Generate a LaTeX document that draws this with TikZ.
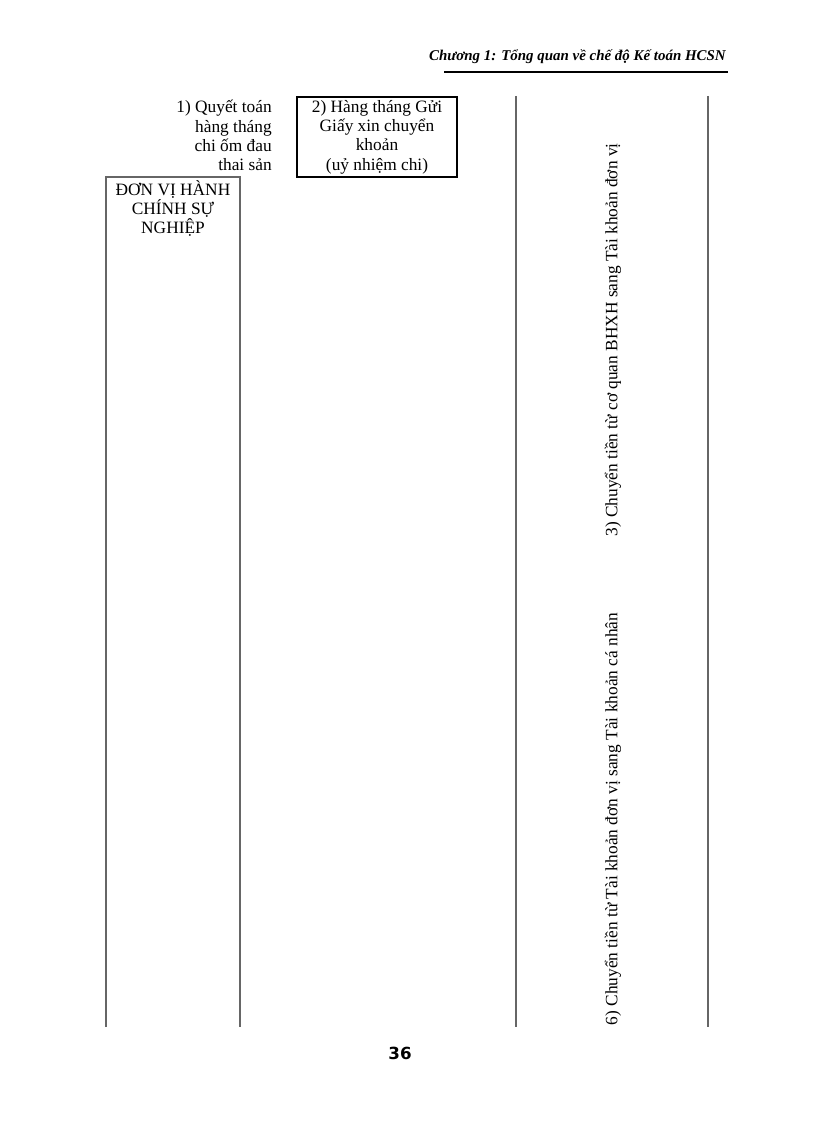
\documentclass[tikz,border=0pt]{standalone}
\usepackage{fontspec}
\setmainfont{Liberation Serif}
\newfontfamily\numfont{DejaVu Sans}
\usepackage{tikz}
\usetikzlibrary{positioning}

\begin{document}
\begin{tikzpicture}[x={(0.75pt,0)},y={(0,-0.75pt)},
	every node/.style={inner sep=0pt,font=\fontsize{13}{14.5}\selectfont},
	band/.style={draw=black!60,line width=1.6pt},
	boxnode/.style={draw=black,line width=0.8pt,minimum width=120pt,minimum height=60pt,align=center}]
	\useasboundingbox (0,0) rectangle (816,1123);

	%header
	\node[anchor=east,font=\fontsize{11.2}{13}\selectfont\bfseries\itshape] (hdr) at (726,57) {Chương 1: Tổng quan về chế độ Kế toán HCSN};
	\coordinate (r1) at (444,72);
	\coordinate (r2) at (728,72);
	\draw[line width=1.5pt] (r1) -- (r2);

	%top labels
	\node[anchor=north east,align=right] (q1) at (272,100) {1) Quyết toán\\ hàng tháng\\ chi ốm đau\\ thai sản};
	\node[boxnode] (q2) at (377,137) {2) Hàng tháng Gửi\\ Giấy xin chuyển\\ khoản\\ (uỷ nhiệm chi)};

	%left band
	\coordinate (a1) at (106,1027);
	\coordinate (a2) at (106,177);
	\coordinate (a3) at (240,177);
	\coordinate (a4) at (240,1027);
	\draw[band] (a1) -- (a2) -- (a3) -- (a4);
	\node[anchor=north,align=center] (dv) at (173,180) {ĐƠN VỊ HÀNH\\ CHÍNH SỰ\\ NGHIỆP};

	%right band
	\coordinate (b1) at (516,96);
	\coordinate (b2) at (516,1027);
	\coordinate (c1) at (708,96);
	\coordinate (c2) at (708,1027);
	\draw[band] (b1) -- (b2);
	\draw[band] (c1) -- (c2);

	%vertical labels
	\node[rotate=90] (t3) at (613,340) {3) Chuyển tiền từ cơ quan BHXH sang Tài khoản đơn vị};
	\node[rotate=90] (t6) at (613,819) {6) Chuyển tiền từ Tài khoản đơn vị sang Tài khoản cá nhân};

	%page number
	\node[font=\numfont\bfseries\fontsize{12.5}{14}\selectfont] (pg) at (400,1053) {36};
\end{tikzpicture}
\end{document}
